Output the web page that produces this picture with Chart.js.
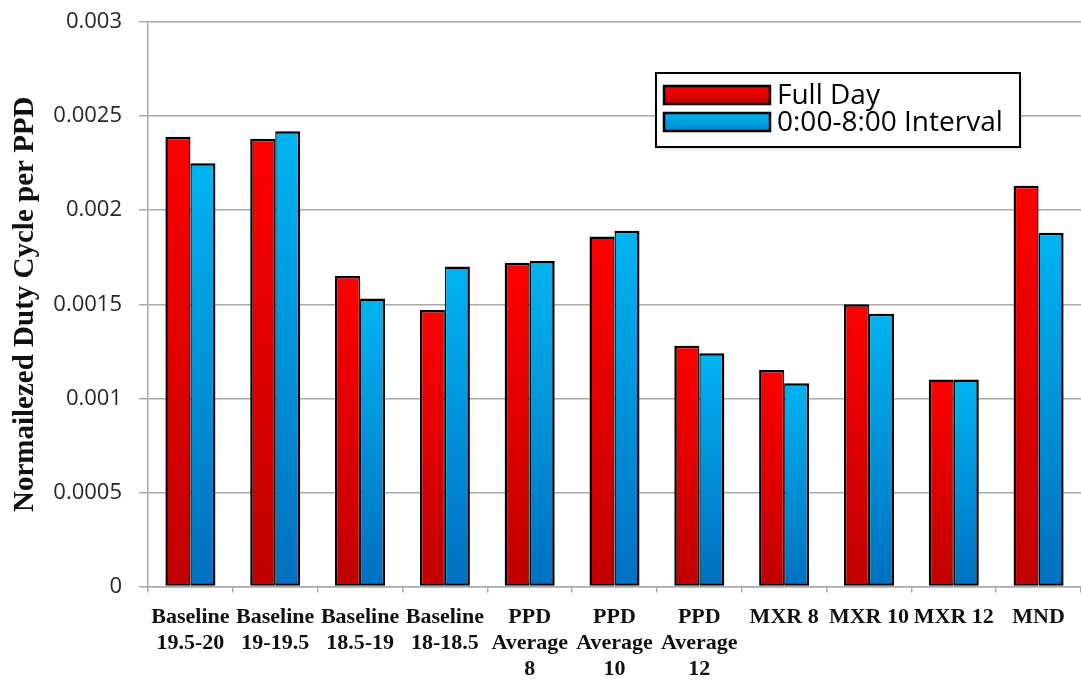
<!DOCTYPE html>
<html>
<head>
<meta charset="utf-8">
<script src="https://cdn.jsdelivr.net/npm/chart.js@4.4.1/dist/chart.umd.min.js"></script>
<style>
  html, body { margin: 0; padding: 0; background: #ffffff; overflow: hidden; }
  canvas { display: block; }
</style>
</head>
<body>
<canvas id="chart" width="1081" height="681"></canvas>
<script>
// Categories (multi-line axis labels)
const categories = [
  ['Baseline', '19.5-20'],
  ['Baseline', '19-19.5'],
  ['Baseline', '18.5-19'],
  ['Baseline', '18-18.5'],
  ['PPD', 'Average', '8'],
  ['PPD', 'Average', '10'],
  ['PPD', 'Average', '12'],
  'MXR 8',
  'MXR 10',
  'MXR 12',
  'MND'
];

// Series values
const fullDay  = [0.00239, 0.00238, 0.00165, 0.00147, 0.00172, 0.00186, 0.00128, 0.00115, 0.00150, 0.00110, 0.00213];
const interval = [0.00225, 0.00242, 0.00153, 0.00170, 0.00173, 0.00189, 0.00124, 0.00108, 0.00145, 0.00110, 0.00188];
const seriesNames = ['Full Day', '0:00-8:00 Interval'];

// Y axis ticks
const yTicks      = [0, 0.0005, 0.001, 0.0015, 0.002, 0.0025, 0.003];
const yTickLabels = ['0', '0.0005', '0.001', '0.0015', '0.002', '0.0025', '0.003'];

const RED_TOP = '#ff0000', RED_BOTTOM = '#c00000';
const BLUE_TOP = '#00b4f2', BLUE_BOTTOM = '#0070c0';

// Vertical gradient running from each bar's top down to its base
function barGradient(top, bottom) {
  return function (ctx) {
    const chart = ctx.chart;
    if (!chart.chartArea || ctx.type !== 'data') return bottom;
    const ys = chart.scales.y;
    const y0 = ys.getPixelForValue(ctx.raw);
    const y1 = ys.getPixelForValue(0);
    const g = chart.ctx.createLinearGradient(0, y0, 0, y1);
    g.addColorStop(0, top);
    g.addColorStop(1, bottom);
    return g;
  };
}

// Boxed legend drawn inside the plot area
const boxedLegend = {
  id: 'boxedLegend',
  afterDraw(chart) {
    const c = chart.ctx;
    const bx = 656, by = 73, bw = 364, bh = 74;
    c.save();
    c.shadowColor = 'rgba(0,0,0,0.18)';
    c.shadowBlur = 4;
    c.shadowOffsetX = 1;
    c.shadowOffsetY = 2;
    c.fillStyle = '#ffffff';
    c.fillRect(bx, by, bw, bh);
    c.restore();
    c.save();
    c.lineWidth = 2;
    c.strokeStyle = '#000000';
    c.strokeRect(bx, by, bw, bh);

    const swatches = [
      { top: RED_TOP, bottom: RED_BOTTOM, y: 86 },
      { top: BLUE_TOP, bottom: '#0088d2', y: 113 }
    ];
    chart.data.datasets.forEach((ds, i) => {
      const s = swatches[i];
      const sx = 664, sw = 106, sh = 18;
      const g = c.createLinearGradient(0, s.y, 0, s.y + sh);
      g.addColorStop(0, s.top);
      g.addColorStop(1, s.bottom);
      c.fillStyle = g;
      c.fillRect(sx, s.y, sw, sh);
      c.lineWidth = 2.5;
      c.strokeStyle = '#000000';
      c.strokeRect(sx, s.y, sw, sh);
      c.fillStyle = '#000000';
      c.font = '28px "Open Sans"';
      c.textAlign = 'left';
      c.textBaseline = 'middle';
      c.fillText(ds.label, 777, s.y + sh / 2 + 1);
    });
    c.restore();
  }
};

const axisGray = '#a9a9a9';

new Chart(document.getElementById('chart'), {
  type: 'bar',
  data: {
    labels: categories,
    datasets: [
      {
        label: seriesNames[0],
        data: fullDay,
        backgroundColor: barGradient(RED_TOP, RED_BOTTOM),
        borderColor: '#000000',
        borderWidth: { left: 2.5, top: 2.5, bottom: 2.5, right: 1.4 },
        borderSkipped: false,
        categoryPercentage: 0.59,
        barPercentage: 1.0
      },
      {
        label: seriesNames[1],
        data: interval,
        backgroundColor: barGradient(BLUE_TOP, BLUE_BOTTOM),
        borderColor: '#000000',
        borderWidth: { left: 1.4, top: 2.5, bottom: 2.5, right: 2.5 },
        borderSkipped: false,
        categoryPercentage: 0.59,
        barPercentage: 1.0
      }
    ]
  },
  options: {
    responsive: false,
    animation: false,
    layout: { padding: { top: 22, right: 0, bottom: 0, left: 0 } },
    plugins: {
      legend: { display: false },
      tooltip: { enabled: false }
    },
    scales: {
      x: {
        grid: {
          offset: true,
          drawOnChartArea: false,
          drawTicks: true,
          tickLength: 6,
          color: axisGray,
          lineWidth: 1.5
        },
        border: { color: axisGray, width: 1.5 },
        ticks: {
          padding: 12,
          color: '#111111',
          maxRotation: 0,
          autoSkip: false,
          font: { family: '"Liberation Serif"', size: 22, weight: 'bold', lineHeight: 26 / 22 }
        },
        afterFit(scale) { scale.height = 94.5; }
      },
      y: {
        min: 0,
        max: 0.003,
        ticks: {
          stepSize: 0.0005,
          padding: 17,
          color: '#262626',
          font: { family: '"Open Sans"', size: 22 },
          callback(value) {
            const i = yTicks.findIndex(t => Math.abs(t - value) < 1e-9);
            return i >= 0 ? yTickLabels[i] : '';
          }
        },
        grid: {
          color: axisGray,
          lineWidth: 1.5,
          drawTicks: true,
          tickLength: 9
        },
        border: { color: axisGray, width: 1.5 },
        title: {
          display: true,
          text: 'Normailezed Duty Cycle per PPD',
          color: '#111111',
          font: { family: '"Liberation Serif"', size: 29, weight: 'bold' },
          padding: { top: 8, bottom: 0 }
        },
        afterFit(scale) {
          scale.width = 148;
          scale.paddingTop = 8;
          scale.paddingBottom = 0;
        }
      }
    }
  },
  plugins: [boxedLegend]
});
</script>
</body>
</html>
